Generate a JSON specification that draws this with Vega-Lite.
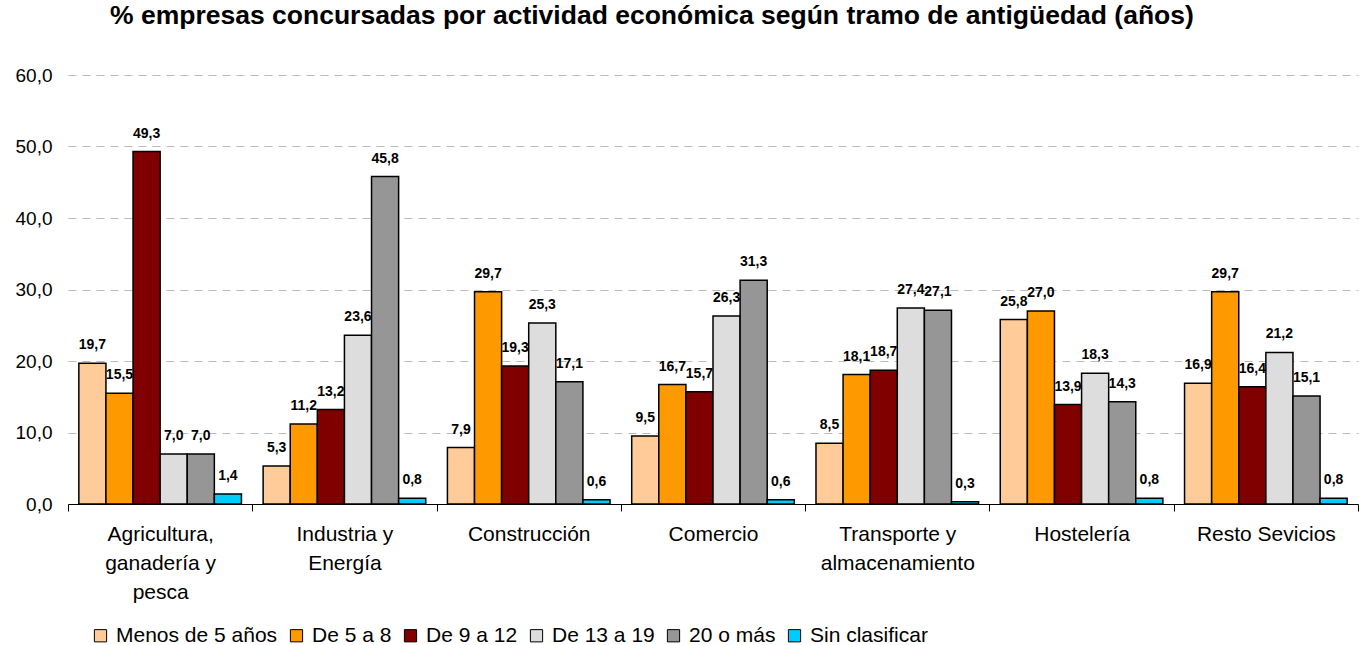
{
  "$schema": "https://vega.github.io/schema/vega-lite/v6.json",
  "width": 1290,
  "height": 429,
  "autosize": {"type": "none"},
  "padding": {"left": 68, "top": 75, "right": 1, "bottom": 141},
  "background": "white",
  "config": {
    "locale": {"number": {"decimal": ",", "thousands": ".", "grouping": [3], "currency": ["", " €"]}},
    "font": "Liberation Sans",
    "view": {"stroke": null}
  },
  "title": {
    "text": "% empresas concursadas por actividad económica según tramo de antigüedad (años)",
    "font": "Liberation Sans",
    "fontSize": 26.5,
    "fontWeight": "bold",
    "color": "black",
    "anchor": "start",
    "frame": "group",
    "dx": 42,
    "offset": 37
  },
  "data": {
    "values": [
      {"cat": "Agricultura, ganadería y pesca", "tramo": "Menos de 5 años", "v": 19.7},
      {"cat": "Agricultura, ganadería y pesca", "tramo": "De 5 a 8", "v": 15.5},
      {"cat": "Agricultura, ganadería y pesca", "tramo": "De 9 a 12", "v": 49.3},
      {"cat": "Agricultura, ganadería y pesca", "tramo": "De 13 a 19", "v": 7.0},
      {"cat": "Agricultura, ganadería y pesca", "tramo": "20 o más", "v": 7.0},
      {"cat": "Agricultura, ganadería y pesca", "tramo": "Sin clasificar", "v": 1.4},
      {"cat": "Industria y Energía", "tramo": "Menos de 5 años", "v": 5.3},
      {"cat": "Industria y Energía", "tramo": "De 5 a 8", "v": 11.2},
      {"cat": "Industria y Energía", "tramo": "De 9 a 12", "v": 13.2},
      {"cat": "Industria y Energía", "tramo": "De 13 a 19", "v": 23.6},
      {"cat": "Industria y Energía", "tramo": "20 o más", "v": 45.8},
      {"cat": "Industria y Energía", "tramo": "Sin clasificar", "v": 0.8},
      {"cat": "Construcción", "tramo": "Menos de 5 años", "v": 7.9},
      {"cat": "Construcción", "tramo": "De 5 a 8", "v": 29.7},
      {"cat": "Construcción", "tramo": "De 9 a 12", "v": 19.3},
      {"cat": "Construcción", "tramo": "De 13 a 19", "v": 25.3},
      {"cat": "Construcción", "tramo": "20 o más", "v": 17.1},
      {"cat": "Construcción", "tramo": "Sin clasificar", "v": 0.6},
      {"cat": "Comercio", "tramo": "Menos de 5 años", "v": 9.5},
      {"cat": "Comercio", "tramo": "De 5 a 8", "v": 16.7},
      {"cat": "Comercio", "tramo": "De 9 a 12", "v": 15.7},
      {"cat": "Comercio", "tramo": "De 13 a 19", "v": 26.3},
      {"cat": "Comercio", "tramo": "20 o más", "v": 31.3},
      {"cat": "Comercio", "tramo": "Sin clasificar", "v": 0.6},
      {"cat": "Transporte y almacenamiento", "tramo": "Menos de 5 años", "v": 8.5},
      {"cat": "Transporte y almacenamiento", "tramo": "De 5 a 8", "v": 18.1},
      {"cat": "Transporte y almacenamiento", "tramo": "De 9 a 12", "v": 18.7},
      {"cat": "Transporte y almacenamiento", "tramo": "De 13 a 19", "v": 27.4},
      {"cat": "Transporte y almacenamiento", "tramo": "20 o más", "v": 27.1},
      {"cat": "Transporte y almacenamiento", "tramo": "Sin clasificar", "v": 0.3},
      {"cat": "Hostelería", "tramo": "Menos de 5 años", "v": 25.8},
      {"cat": "Hostelería", "tramo": "De 5 a 8", "v": 27.0},
      {"cat": "Hostelería", "tramo": "De 9 a 12", "v": 13.9},
      {"cat": "Hostelería", "tramo": "De 13 a 19", "v": 18.3},
      {"cat": "Hostelería", "tramo": "20 o más", "v": 14.3},
      {"cat": "Hostelería", "tramo": "Sin clasificar", "v": 0.8},
      {"cat": "Resto Sevicios", "tramo": "Menos de 5 años", "v": 16.9},
      {"cat": "Resto Sevicios", "tramo": "De 5 a 8", "v": 29.7},
      {"cat": "Resto Sevicios", "tramo": "De 9 a 12", "v": 16.4},
      {"cat": "Resto Sevicios", "tramo": "De 13 a 19", "v": 21.2},
      {"cat": "Resto Sevicios", "tramo": "20 o más", "v": 15.1},
      {"cat": "Resto Sevicios", "tramo": "Sin clasificar", "v": 0.8}
    ]
  },
  "encoding": {
    "x": {
      "field": "cat",
      "type": "nominal",
      "sort": null,
      "scale": {"paddingInner": 0, "paddingOuter": 0},
      "axis": {
        "title": null,
        "labelAngle": 0,
        "tickBand": "extent",
        "tickSize": 7,
        "tickColor": "black",
        "domainColor": "black",
        "labelColor": "black",
        "labelFontSize": 21,
        "labelPadding": 12,
        "labelLineHeight": 29,
        "labelBaseline": "top",
        "labelExpr": "datum.label == 'Agricultura, ganadería y pesca' ? ['Agricultura,', 'ganadería y', 'pesca'] : datum.label == 'Industria y Energía' ? ['Industria y', 'Energía'] : datum.label == 'Transporte y almacenamiento' ? ['Transporte y', 'almacenamiento'] : datum.label"
      }
    },
    "xOffset": {
      "field": "tramo",
      "type": "nominal",
      "sort": ["Menos de 5 años", "De 5 a 8", "De 9 a 12", "De 13 a 19", "20 o más", "Sin clasificar"],
      "scale": {"paddingInner": 0, "paddingOuter": 0.4}
    },
    "y": {
      "field": "v",
      "type": "quantitative",
      "scale": {"domain": [0, 60]},
      "axis": {
        "title": null,
        "format": ".1f",
        "values": [0, 10, 20, 30, 40, 50, 60],
        "domain": false,
        "ticks": false,
        "labelPadding": 16,
        "labelFontSize": 19,
        "labelColor": "black",
        "gridColor": "#BBBBBB",
        "gridDash": [8, 6],
        "gridWidth": 1
      }
    }
  },
  "layer": [
    {
      "mark": {"type": "bar", "stroke": "black", "strokeWidth": 1.5},
      "encoding": {
        "fill": {
          "field": "tramo",
          "type": "nominal",
          "sort": ["Menos de 5 años", "De 5 a 8", "De 9 a 12", "De 13 a 19", "20 o más", "Sin clasificar"],
          "scale": {
            "domain": ["Menos de 5 años", "De 5 a 8", "De 9 a 12", "De 13 a 19", "20 o más", "Sin clasificar"],
            "range": ["#FFCC99", "#FF9900", "#800000", "#DDDDDD", "#969696", "#00CCFF"]
          },
          "legend": {
            "title": null,
            "orient": "none",
            "direction": "horizontal",
            "legendX": 22,
            "legendY": 550,
            "symbolType": "square",
            "symbolSize": 150,
            "symbolStrokeColor": "black",
            "symbolStrokeWidth": 1,
            "labelFontSize": 21,
            "labelLimit": 400,
            "labelColor": "black",
            "labelOffset": 5,
            "columnPadding": 8
          }
        }
      }
    },
    {
      "mark": {"type": "text", "baseline": "bottom", "dy": -11, "fontWeight": "bold", "fontSize": 14, "color": "black"},
      "encoding": {
        "text": {"field": "v", "type": "quantitative", "format": ".1f"}
      }
    }
  ]
}
